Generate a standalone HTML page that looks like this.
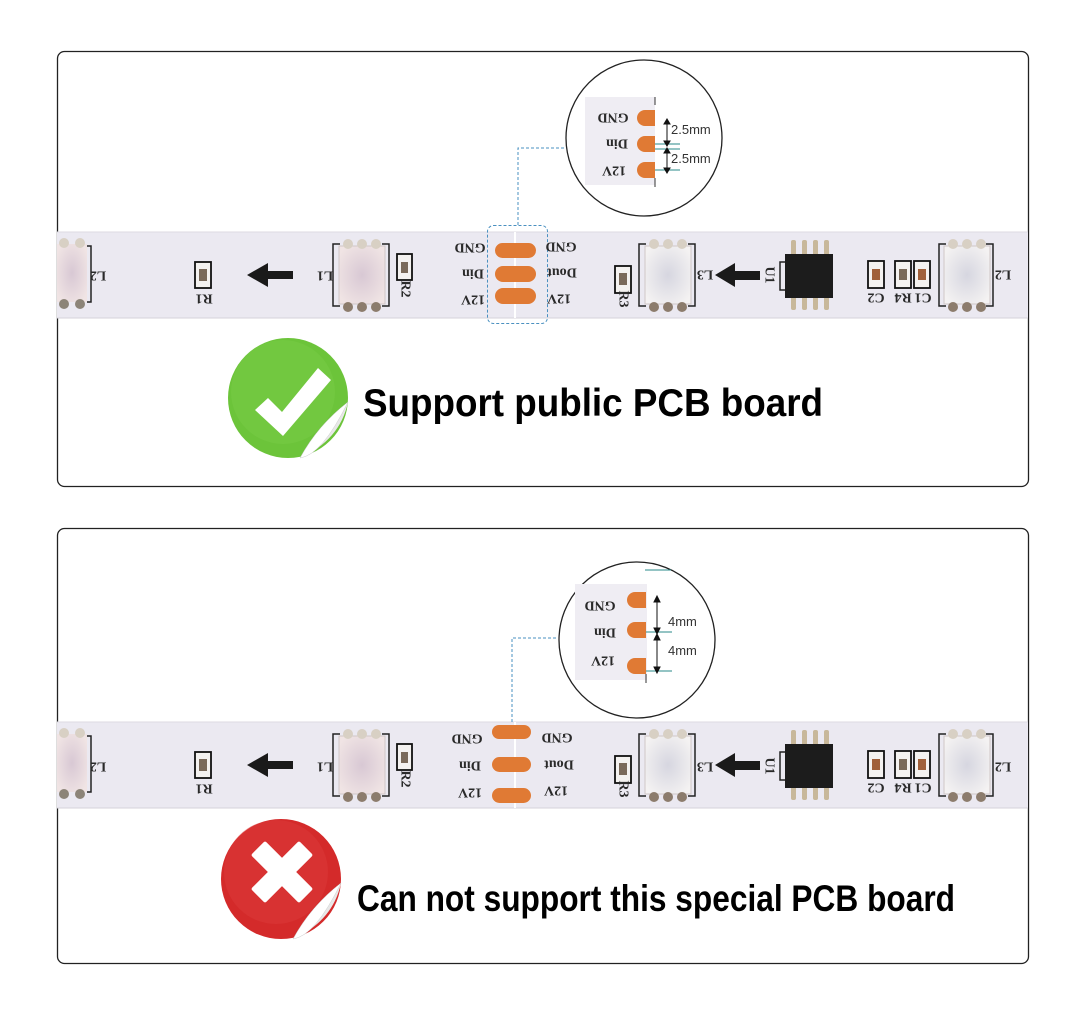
<!DOCTYPE html>
<html><head><meta charset="utf-8"><style>
html,body{margin:0;padding:0;background:#fff;width:1085px;height:1015px;overflow:hidden}
svg{display:block}
.t{font-family:"Liberation Serif",serif;font-weight:bold;font-size:14px;fill:#2a2a2a}
.h{font-family:"Liberation Sans",sans-serif;font-weight:bold;fill:#000}
.m{font-family:"Liberation Sans",sans-serif;font-size:13px;fill:#333}
</style></head><body>
<svg width="1085" height="1015" viewBox="0 0 1085 1015" xmlns="http://www.w3.org/2000/svg">
<defs>
<radialGradient id="ledp" cx="50%" cy="50%" r="60%"><stop offset="0" stop-color="#d8c8d4"/><stop offset="1" stop-color="#f0e4e4"/></radialGradient>
<radialGradient id="ledw" cx="50%" cy="50%" r="60%"><stop offset="0" stop-color="#d6d6e0"/><stop offset="1" stop-color="#f4f2f2"/></radialGradient>
<g id="strip">
<rect x="57" y="0" width="971" height="86" fill="#ebe9f1"/>
<line x1="57" y1="0" x2="1028" y2="0" stroke="#dcdae2"/>
<line x1="57" y1="86" x2="1028" y2="86" stroke="#d4d2da"/>
<rect x="57" y="12" width="30" height="58" fill="url(#ledp)"/>
<circle cx="64" cy="11" r="5" fill="#d8d0c4"/><circle cx="80" cy="11" r="5" fill="#d8d0c4"/>
<circle cx="64" cy="72" r="5" fill="#8c8478"/><circle cx="80" cy="72" r="5" fill="#8c8478"/>
<path d="M87 14 L91 14 L91 70 L87 70" fill="none" stroke="#222" stroke-width="1.5"/>
<rect x="195" y="30" width="16" height="26" fill="#f4f2f0" stroke="#111" stroke-width="1.8"/>
<rect x="199" y="37" width="8" height="12" fill="#7a6a5a"/>
<rect x="265" y="39" width="28" height="8" fill="#1a1a1a"/>
<polygon points="247,43 268,31 268,55" fill="#1a1a1a"/>
<path d="M340 12 L333 12 L333 74 L340 74 M382 12 L389 12 L389 74 L382 74" fill="none" stroke="#222" stroke-width="1.5"/>
<rect x="339" y="14" width="46" height="58" fill="url(#ledp)" stroke="#cfc6c6"/>
<circle cx="348" cy="12" r="5" fill="#d8d0c4"/><circle cx="362" cy="12" r="5" fill="#d8d0c4"/><circle cx="376" cy="12" r="5" fill="#d8d0c4"/>
<circle cx="348" cy="75" r="5" fill="#8c7c6c"/><circle cx="362" cy="75" r="5" fill="#8c7c6c"/><circle cx="376" cy="75" r="5" fill="#8c7c6c"/>
<rect x="397" y="22" width="15" height="26" fill="#f4f2f0" stroke="#111" stroke-width="1.8"/>
<rect x="401" y="30" width="7" height="11" fill="#7a6a5a"/>
<rect x="615" y="34" width="16" height="27" fill="#f4f2f0" stroke="#111" stroke-width="1.8"/>
<rect x="619" y="41" width="8" height="12" fill="#7a6a5a"/>
<path d="M646 12 L639 12 L639 74 L646 74 M688 12 L695 12 L695 74 L688 74" fill="none" stroke="#222" stroke-width="1.5"/>
<rect x="645" y="14" width="46" height="58" fill="url(#ledw)" stroke="#cfc6c6"/>
<circle cx="654" cy="12" r="5" fill="#d8d0c4"/><circle cx="668" cy="12" r="5" fill="#d8d0c4"/><circle cx="682" cy="12" r="5" fill="#d8d0c4"/>
<circle cx="654" cy="75" r="5" fill="#8c7c6c"/><circle cx="668" cy="75" r="5" fill="#8c7c6c"/><circle cx="682" cy="75" r="5" fill="#8c7c6c"/>
<rect x="732" y="39" width="28" height="9" fill="#1a1a1a"/>
<polygon points="715,43 735,31 735,55" fill="#1a1a1a"/>
<g fill="#c8b89a"><rect x="791" y="8" width="5" height="16" rx="2"/><rect x="802" y="8" width="5" height="16" rx="2"/><rect x="813" y="8" width="5" height="16" rx="2"/><rect x="824" y="8" width="5" height="16" rx="2"/>
<rect x="791" y="62" width="5" height="16" rx="2"/><rect x="802" y="62" width="5" height="16" rx="2"/><rect x="813" y="62" width="5" height="16" rx="2"/><rect x="824" y="62" width="5" height="16" rx="2"/></g>
<rect x="785" y="22" width="48" height="44" fill="#1c1c1c"/>
<path d="M785 30 L780 30 L780 58 L785 58" fill="none" stroke="#222" stroke-width="1.5"/>
<rect x="868" y="29" width="16" height="27" fill="#f4f2f0" stroke="#111" stroke-width="1.8"/>
<rect x="872" y="37" width="8" height="11" fill="#a0603a"/>
<rect x="895" y="29" width="16" height="27" fill="#f4f2f0" stroke="#111" stroke-width="1.8"/>
<rect x="899" y="37" width="8" height="11" fill="#7a6a5a"/>
<rect x="914" y="29" width="16" height="27" fill="#f4f2f0" stroke="#111" stroke-width="1.8"/>
<rect x="918" y="37" width="8" height="11" fill="#a0603a"/>
<path d="M946 12 L939 12 L939 74 L946 74 M986 12 L993 12 L993 74 L986 74" fill="none" stroke="#222" stroke-width="1.5"/>
<rect x="944" y="14" width="46" height="58" fill="url(#ledw)" stroke="#cfc6c6"/>
<circle cx="953" cy="12" r="5" fill="#d8d0c4"/><circle cx="967" cy="12" r="5" fill="#d8d0c4"/><circle cx="981" cy="12" r="5" fill="#d8d0c4"/>
<circle cx="953" cy="75" r="5" fill="#8c7c6c"/><circle cx="967" cy="75" r="5" fill="#8c7c6c"/><circle cx="981" cy="75" r="5" fill="#8c7c6c"/>
<line x1="515" y1="0" x2="515" y2="86" stroke="#fff" stroke-width="2"/>
</g>
</defs>

<rect x="57.5" y="51.5" width="971" height="435" rx="7" fill="#fff" stroke="#222" stroke-width="1.3"/>
<rect x="57.5" y="528.5" width="971" height="435" rx="7" fill="#fff" stroke="#222" stroke-width="1.3"/>

<use href="#strip" transform="translate(0,232)"/>
<g fill="#e07a34"><rect x="495" y="243" width="41" height="15" rx="7.5"/><rect x="495" y="266" width="41" height="16" rx="8"/><rect x="495" y="288" width="41" height="16" rx="8"/></g>
<rect x="487.5" y="225.5" width="60" height="98" rx="6" fill="none" stroke="#4a90c0" stroke-dasharray="3,2"/>
<path d="M518 225 L518 148 L566 148" fill="none" stroke="#4a90c0" stroke-dasharray="3,2"/>
<g class="t" text-anchor="middle" dominant-baseline="central">
<text transform="translate(98,275) rotate(180)">L2</text>
<text transform="translate(204,298) rotate(180)">R1</text>
<text transform="translate(325,275) rotate(180)">L1</text>
<text transform="translate(405,289) rotate(90)">R2</text>
<text transform="translate(470,247) rotate(180)">GND</text>
<text transform="translate(473,273) rotate(180)">Din</text>
<text transform="translate(473,299) rotate(180)">12V</text>
<text transform="translate(561,246) rotate(180)">GND</text>
<text transform="translate(562,272) rotate(180)">Dout</text>
<text transform="translate(559,298) rotate(180)">12V</text>
<text transform="translate(623,299) rotate(90)">R3</text>
<text transform="translate(705,274) rotate(180)">L3</text>
<text transform="translate(769,275) rotate(90)">U1</text>
<text transform="translate(876,297) rotate(180)">C2</text>
<text transform="translate(903,297) rotate(180)">R4</text>
<text transform="translate(923,297) rotate(180)">C1</text>
<text transform="translate(1003,274) rotate(180)">L2</text>
</g>
<circle cx="644" cy="138" r="78" fill="#fff" stroke="#222" stroke-width="1.3"/>
<rect x="585" y="97" width="70" height="88" fill="#efedf3"/>
<line x1="655" y1="97" x2="655" y2="105" stroke="#333"/>
<line x1="655" y1="178" x2="655" y2="187" stroke="#333"/>
<g fill="#e07a34"><path d="M645 110 h10 v16 h-10 a8 8 0 0 1 0 -16z"/><path d="M645 136 h10 v16 h-10 a8 8 0 0 1 0 -16z"/><path d="M645 162 h10 v16 h-10 a8 8 0 0 1 0 -16z"/></g>
<g class="t" text-anchor="middle" dominant-baseline="central">
<text transform="translate(613,117) rotate(180)">GND</text>
<text transform="translate(617,143) rotate(180)">Din</text>
<text transform="translate(614,170) rotate(180)">12V</text>
</g>
<g stroke="#2a8a8a"><line x1="655" y1="144" x2="680" y2="144"/><line x1="655" y1="149" x2="680" y2="149"/><line x1="655" y1="170" x2="680" y2="170"/></g>
<g stroke="#111" fill="#111"><line x1="667" y1="121" x2="667" y2="143"/><polygon points="664,124 670,124 667,119"/><polygon points="664,141 670,141 667,146"/>
<line x1="667" y1="150" x2="667" y2="170"/><polygon points="664,153 670,153 667,148"/><polygon points="664,168 670,168 667,173"/></g>
<text class="m" x="671" y="134">2.5mm</text>
<text class="m" x="671" y="163">2.5mm</text>

<circle cx="288" cy="398" r="60" fill="#6cc43a"/>
<circle cx="283" cy="392" r="52" fill="#78cc46" opacity=".5"/>
<path d="M300 458 Q340 440 348 402 Q330 430 300 458z" fill="#e8e8e8"/>
<path d="M300 458 Q318 425 348 402 Q322 455 300 458z" fill="#fff" stroke="#ccc" stroke-width=".5"/>
<polygon points="255,410 268,398 282,412 318,368 331,380 283,436" fill="#fff"/>
<text class="h" x="363" y="416" font-size="39" textLength="460" lengthAdjust="spacingAndGlyphs">Support public PCB board</text>

<use href="#strip" transform="translate(0,722)"/>
<g fill="#e07a34"><rect x="492" y="725" width="39" height="14" rx="7"/><rect x="492" y="757" width="39" height="15" rx="7.5"/><rect x="492" y="788" width="39" height="15" rx="7.5"/></g>
<path d="M512 722 L512 638 L558 638" fill="none" stroke="#4a90c0" stroke-dasharray="3,2"/>
<g class="t" text-anchor="middle" dominant-baseline="central">
<text transform="translate(98,766) rotate(180)">L2</text>
<text transform="translate(204,788) rotate(180)">R1</text>
<text transform="translate(325,766) rotate(180)">L1</text>
<text transform="translate(405,779) rotate(90)">R2</text>
<text transform="translate(467,738) rotate(180)">GND</text>
<text transform="translate(470,765) rotate(180)">Din</text>
<text transform="translate(470,792) rotate(180)">12V</text>
<text transform="translate(557,737) rotate(180)">GND</text>
<text transform="translate(559,764) rotate(180)">Dout</text>
<text transform="translate(556,790) rotate(180)">12V</text>
<text transform="translate(623,789) rotate(90)">R3</text>
<text transform="translate(705,766) rotate(180)">L3</text>
<text transform="translate(769,766) rotate(90)">U1</text>
<text transform="translate(876,787) rotate(180)">C2</text>
<text transform="translate(903,787) rotate(180)">R4</text>
<text transform="translate(923,787) rotate(180)">C1</text>
<text transform="translate(1003,766) rotate(180)">L2</text>
</g>
<circle cx="637" cy="640" r="78" fill="#fff" stroke="#222" stroke-width="1.3"/>
<rect x="575" y="584" width="72" height="96" fill="#efedf3"/>
<line x1="646" y1="674" x2="646" y2="683" stroke="#333"/>
<g fill="#e07a34"><path d="M635 592 h11 v16 h-11 a8 8 0 0 1 0 -16z"/><path d="M635 622 h11 v16 h-11 a8 8 0 0 1 0 -16z"/><path d="M635 658 h11 v16 h-11 a8 8 0 0 1 0 -16z"/></g>
<g class="t" text-anchor="middle" dominant-baseline="central">
<text transform="translate(600,605) rotate(180)">GND</text>
<text transform="translate(605,632) rotate(180)">Din</text>
<text transform="translate(603,660) rotate(180)">12V</text>
</g>
<g stroke="#2a8a8a"><line x1="645" y1="570" x2="671" y2="570"/><line x1="646" y1="632" x2="672" y2="632"/><line x1="646" y1="671" x2="672" y2="671"/></g>
<g stroke="#111" fill="#111"><line x1="657" y1="599" x2="657" y2="631"/><polygon points="654,602 660,602 657,596"/><polygon points="654,628 660,628 657,634"/>
<line x1="657" y1="637" x2="657" y2="670"/><polygon points="654,640 660,640 657,634"/><polygon points="654,667 660,667 657,673"/></g>
<text class="m" x="668" y="626">4mm</text>
<text class="m" x="668" y="655">4mm</text>

<circle cx="281" cy="879" r="60" fill="#d42a2a"/>
<circle cx="276" cy="872" r="52" fill="#dc3a3a" opacity=".5"/>
<path d="M293 939 Q333 921 341 883 Q323 911 293 939z" fill="#e8e8e8"/>
<path d="M293 939 Q311 906 341 883 Q315 936 293 939z" fill="#fff" stroke="#ccc" stroke-width=".5"/>
<g fill="#fff" transform="rotate(45 282 872)"><rect x="272" y="838" width="20" height="68" rx="2"/><rect x="248" y="862" width="68" height="20" rx="2"/></g>
<text class="h" x="357" y="911" font-size="37" textLength="598" lengthAdjust="spacingAndGlyphs">Can not support this special PCB board</text>
</svg>
</body></html>
